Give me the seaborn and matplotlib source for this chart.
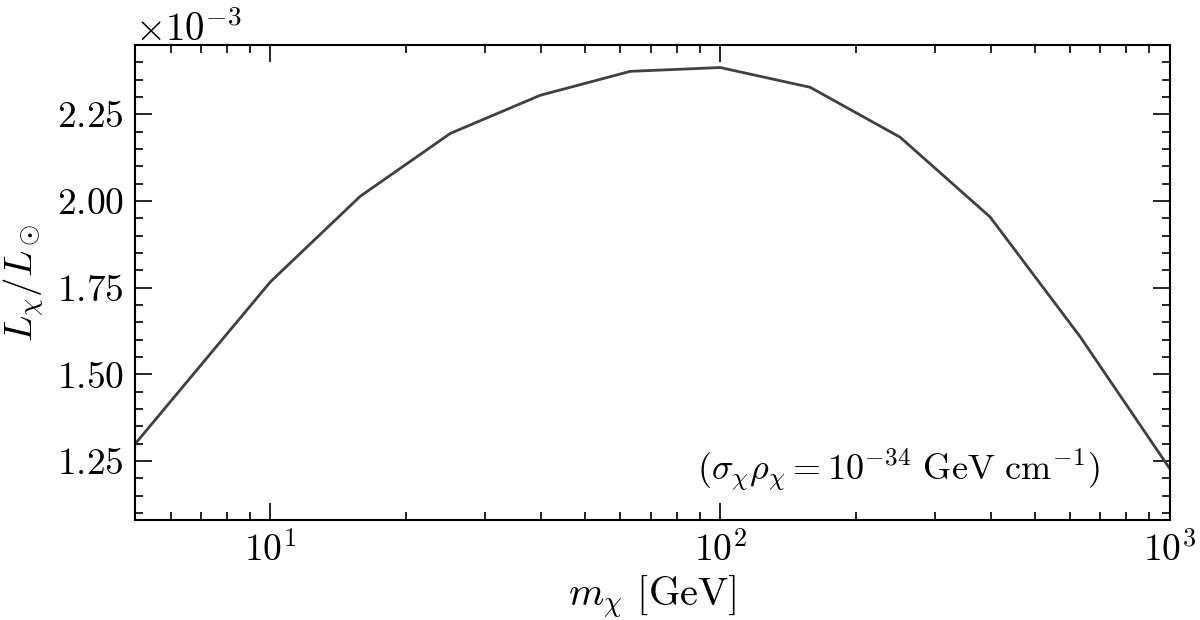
import numpy as np
import pandas as pd
import matplotlib
matplotlib.use("Agg")
import matplotlib.pyplot as plt
import matplotlib.ticker as mticker
import seaborn as sns

# Data
mass_gev = [5.0, 10.0, 15.85, 25.12, 39.81, 63.10, 100.0, 158.5, 251.2, 398.1, 631.0, 1000.0]
lum_ratio = [1.299e-3, 1.767e-3, 2.014e-3, 2.195e-3, 2.305e-3, 2.374e-3, 2.385e-3,
             2.328e-3, 2.184e-3, 1.954e-3, 1.609e-3, 1.227e-3]
xlabel_text = r"$m_\chi$ [GeV]"
ylabel_text = r"$L_\chi/L_\odot$"
annotation = r"$(\sigma_\chi\rho_\chi = 10^{-34}\ \mathrm{GeV\ cm^{-1}})$"

sns.set_style("ticks")
plt.rcParams["font.family"] = ["cmr10", "DejaVu Serif"]
plt.rcParams["mathtext.fontset"] = "cm"
plt.rcParams["axes.formatter.use_mathtext"] = True
plt.rcParams["axes.unicode_minus"] = True
for k in ["text.color", "axes.labelcolor", "xtick.color", "ytick.color",
          "xtick.labelcolor", "ytick.labelcolor", "axes.edgecolor"]:
    plt.rcParams[k] = "black"

df = pd.DataFrame({"m": mass_gev, "L": lum_ratio})

fig = plt.figure(figsize=(12, 6.2), dpi=100)
ax = fig.add_axes([135/1200, 1 - 520/620, (1170-135)/1200, (520-45)/620])
sns.lineplot(data=df, x="m", y="L", ax=ax, color="#404040", linewidth=2.0)
ax.set_xscale("log")
ax.set_xlim(5, 1000)
ax.set_ylim(1.08e-3, 2.45e-3)

ax.yaxis.set_major_locator(mticker.MultipleLocator(0.25e-3))
ax.yaxis.set_minor_locator(mticker.MultipleLocator(0.05e-3))
fmt = mticker.ScalarFormatter(useMathText=True)
fmt.set_powerlimits((-2, 2))
ax.yaxis.set_major_formatter(fmt)
ax.xaxis.set_major_locator(mticker.LogLocator(base=10, numticks=10))
ax.xaxis.set_minor_locator(mticker.LogLocator(base=10, subs=np.arange(2, 10), numticks=20))
ax.xaxis.set_minor_formatter(mticker.NullFormatter())

ax.tick_params(which="both", direction="in", top=True, right=True, labelsize=27, width=1.2,
               color="black", labelcolor="black")
ax.tick_params(which="major", length=12, pad=8)
ax.tick_params(which="minor", length=6)
for s in ax.spines.values():
    s.set_linewidth(1.5)
    s.set_color("black")
ax.yaxis.get_offset_text().set_fontsize(28)
ax.yaxis.get_offset_text().set_color("black")

ax.set_xlabel(xlabel_text, fontsize=29, labelpad=4, color="black")
ax.set_ylabel(ylabel_text, fontsize=28, labelpad=8, color="black")
ax.text(0.932, 0.105, annotation, transform=ax.transAxes, ha="right", va="center",
        fontsize=26, color="black")

fig.savefig("out.png", dpi=100)
